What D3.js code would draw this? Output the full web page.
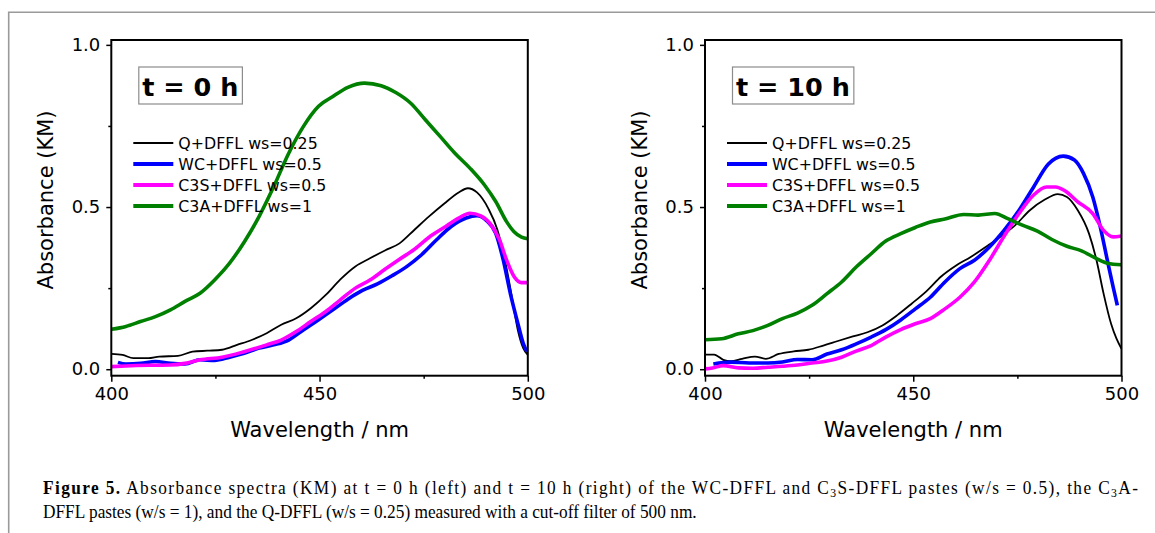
<!DOCTYPE html>
<html>
<head>
<meta charset="utf-8">
<script src="https://cdnjs.cloudflare.com/ajax/libs/d3/7.8.5/d3.min.js"></script>
<style>
body { margin: 0; background: #fff; }
svg { display: block; }
.axis text { font-family: "DejaVu Sans", sans-serif; font-size: 18px; fill: #000; }
.axis line { stroke: #000; stroke-width: 1.5px; }
</style>
</head>
<body>
<script>
// spectra: [wavelength nm, absorbance KM]
var q0 = [[400,0.047],[402.7,0.044],[405.3,0.034],[408.9,0.034],[411.5,0.039],[416,0.041],[419.5,0.054],[423.1,0.057],[426.6,0.06],[430.2,0.075],[433.7,0.09],[437.3,0.111],[440.8,0.137],[444.4,0.157],[447.9,0.188],[451.5,0.229],[455,0.277],[458.6,0.317],[462.1,0.342],[465.7,0.366],[469.2,0.388],[472.8,0.43],[476.3,0.471],[479.9,0.51],[483.4,0.545],[485.6,0.558],[487.8,0.545],[490.5,0.496],[492.7,0.43],[494.5,0.337],[496.3,0.214],[497.6,0.121],[498.9,0.065],[500,0.044]];
var wc0 = [[401.6,0.021],[403.5,0.016],[407.1,0.018],[410.6,0.024],[414.2,0.018],[417.7,0.016],[421.3,0.029],[424.8,0.027],[428.4,0.037],[431.9,0.049],[435.5,0.065],[439,0.075],[442.6,0.09],[446.1,0.121],[449.7,0.152],[453.2,0.183],[456.8,0.216],[460.3,0.243],[463.9,0.263],[467.4,0.288],[471,0.317],[474.5,0.353],[478.1,0.399],[481.6,0.44],[485.2,0.466],[487.8,0.473],[490.1,0.458],[492.3,0.419],[494.1,0.337],[495.8,0.234],[497.6,0.142],[498.9,0.08],[499.8,0.054]];
var c3s0 = [[400,0.008],[403.5,0.01],[408.9,0.012],[414.2,0.013],[417.7,0.018],[421.3,0.029],[426.6,0.037],[431.9,0.054],[437.3,0.075],[440.8,0.09],[444.4,0.116],[447.9,0.147],[451.5,0.178],[455,0.214],[458.6,0.25],[462.1,0.275],[465.7,0.308],[469.2,0.339],[472.8,0.37],[476.3,0.407],[479.9,0.437],[483.4,0.466],[486.1,0.481],[488.7,0.473],[491,0.448],[493.2,0.399],[494.9,0.337],[496.7,0.286],[498.5,0.267],[500,0.267]];
var c3a0 = [[400,0.123],[403.5,0.132],[407,0.147],[410.6,0.162],[414.2,0.183],[417.7,0.209],[421.3,0.234],[424.8,0.275],[428.4,0.327],[432,0.394],[435.5,0.471],[439,0.563],[442.6,0.666],[446.1,0.748],[449.7,0.81],[453.2,0.841],[456.8,0.869],[460.8,0.882],[464.8,0.874],[468.3,0.853],[471.9,0.82],[475.4,0.769],[479,0.717],[482.5,0.666],[486.1,0.62],[489.6,0.568],[492.3,0.517],[494.9,0.455],[496.7,0.424],[498.5,0.407],[500,0.402]];

var q10 = [[400,0.045],[402.2,0.045],[404.4,0.029],[406.2,0.025],[408.9,0.032],[412,0.039],[414.6,0.032],[417.7,0.047],[421.3,0.055],[424.8,0.06],[428.4,0.073],[431.9,0.087],[435.5,0.101],[439,0.114],[442.6,0.135],[446.1,0.166],[449.6,0.202],[453.2,0.241],[456.7,0.286],[460.3,0.32],[463.8,0.346],[467.4,0.377],[470.9,0.408],[474.5,0.444],[478,0.49],[481.6,0.523],[484.7,0.54],[486.9,0.531],[489.5,0.49],[492.2,0.418],[494,0.336],[495.7,0.233],[497.5,0.14],[498.8,0.094],[500,0.063]];
var wc10 = [[402,0.016],[406.2,0.022],[410.6,0.019],[415.1,0.019],[418.6,0.022],[422.2,0.03],[425.7,0.029],[429.3,0.047],[432.8,0.06],[436.3,0.078],[439.9,0.099],[443.4,0.122],[447,0.152],[450.5,0.186],[454.1,0.222],[457.6,0.269],[461.2,0.31],[464.7,0.336],[468.3,0.377],[471.8,0.428],[475.4,0.49],[478.9,0.562],[482.4,0.632],[486,0.657],[488.7,0.645],[490.9,0.603],[493.1,0.531],[494.9,0.439],[496.6,0.336],[498,0.253],[499,0.197]];
var c3s10 = [[400,0.001],[401.8,0.004],[404.4,0.011],[408,0.004],[411.5,0.003],[415.1,0.006],[418.6,0.009],[422.2,0.013],[425.7,0.019],[429.3,0.025],[432.8,0.037],[436.3,0.056],[439.9,0.073],[443.4,0.099],[447,0.122],[450.5,0.14],[454.1,0.156],[457.6,0.186],[461.2,0.222],[464.7,0.269],[468.3,0.336],[471.8,0.41],[475.4,0.48],[478.9,0.537],[482,0.562],[484.2,0.562],[486.4,0.55],[489.5,0.516],[493.1,0.48],[495.7,0.428],[498,0.408],[500,0.411]];
var c3a10 = [[400,0.091],[404,0.094],[408,0.109],[411.5,0.119],[415.1,0.135],[418.6,0.156],[422.2,0.173],[425.7,0.197],[429.3,0.233],[432.8,0.269],[436.3,0.315],[439.9,0.356],[443.4,0.395],[447,0.418],[450.5,0.437],[454.1,0.454],[457.6,0.463],[462.1,0.477],[465.6,0.475],[469.6,0.48],[472.7,0.464],[476.2,0.444],[479.8,0.426],[483.3,0.4],[486.9,0.379],[490.4,0.365],[494,0.341],[496.6,0.327],[500,0.322]];

var seriesNames = ["Q+DFFL ws=0.25", "WC+DFFL ws=0.5", "C3S+DFFL ws=0.5", "C3A+DFFL ws=1"];
var seriesColors = ["#000000", "#0000ff", "#ff00ff", "#008000"];
var seriesWidths = [1.8, 3.6, 3.6, 3.6];
var panelTitles = ["t = 0 h", "t = 10 h"];
var xTicks = [400, 450, 500], xMinor = [425, 475];
var yTicks = [0, 0.5, 1.0], yMinor = [0.25, 0.75];

var panels = [
  { left: 111.3, title: panelTitles[0], data: [q0, wc0, c3s0, c3a0] },
  { left: 705, title: panelTitles[1], data: [q10, wc10, c3s10, c3a10] }
];

var W = 1155, H = 533;
var plotTop = 40, width = 416.5, height = 335.7;

var svg = d3.select("body").append("svg")
    .attr("width", W)
    .attr("height", H);

// figure box (gray frame around the figure)
svg.append("path")
    .attr("d", "M8.7," + H + "V12.3H" + W)
    .attr("fill", "none")
    .attr("stroke", "#9a9a9a")
    .attr("stroke-width", 1.6);

var x = d3.scaleLinear().domain([400, 500]).range([0, width]);
var y = d3.scaleLinear().domain([-0.02, 1.015]).range([height, 0]);

var line = d3.line()
    .x(function(d) { return x(d[0]); })
    .y(function(d) { return y(d[1]); })
    .curve(d3.curveMonotoneX);

panels.forEach(function(p) {
  var g = svg.append("g").attr("transform", "translate(" + p.left + "," + plotTop + ")");

  // y axis, major + minor ticks
  g.append("g").attr("class", "axis")
      .call(d3.axisLeft(y).tickValues(yTicks).tickSize(5).tickPadding(6).tickFormat(d3.format(".1f")))
      .call(function(a) { a.select(".domain").remove(); });
  g.append("g").attr("class", "axis")
      .call(d3.axisLeft(y).tickValues(yMinor).tickSize(3).tickFormat(""))
      .call(function(a) { a.select(".domain").remove(); });

  // x axis
  g.append("g").attr("class", "axis")
      .attr("transform", "translate(0," + height + ")")
      .call(d3.axisBottom(x).tickValues(xTicks).tickSize(6).tickPadding(6))
      .call(function(a) { a.select(".domain").remove(); });
  g.append("g").attr("class", "axis")
      .attr("transform", "translate(0," + height + ")")
      .call(d3.axisBottom(x).tickValues(xMinor).tickSize(3).tickFormat(""))
      .call(function(a) { a.select(".domain").remove(); });

  // curves
  p.data.forEach(function(s, i) {
    g.append("path")
        .datum(s)
        .attr("fill", "none")
        .attr("stroke", seriesColors[i])
        .attr("stroke-width", seriesWidths[i])
        .attr("stroke-linejoin", "round")
        .attr("d", line);
  });

  // frame
  g.append("rect")
      .attr("width", width).attr("height", height)
      .attr("fill", "none").attr("stroke", "#000").attr("stroke-width", 2);

  // axis labels
  g.append("text")
      .attr("transform", "translate(-58.3," + (200 - plotTop) + ") rotate(-90)")
      .attr("text-anchor", "middle")
      .style("font-family", "DejaVu Sans, sans-serif")
      .style("font-size", "21px")
      .text("Absorbance (KM)");
  g.append("text")
      .attr("x", width / 2).attr("y", 437 - plotTop)
      .attr("text-anchor", "middle")
      .style("font-family", "DejaVu Sans, sans-serif")
      .style("font-size", "21px")
      .text("Wavelength / nm");

  // title box
  var t = g.append("text")
      .attr("x", 31).attr("y", 96 - plotTop)
      .style("font-family", "DejaVu Sans, sans-serif")
      .style("font-weight", "bold")
      .style("font-size", "25.5px")
      .text(p.title);
  var tw = t.node().getComputedTextLength();
  g.insert("rect", function() { return t.node(); })
      .attr("x", 27.5).attr("y", 67 - plotTop)
      .attr("width", tw + 7.5).attr("height", 37)
      .attr("fill", "#fff").attr("stroke", "#8c8c8c").attr("stroke-width", 1.2);

  // legend
  var lg = g.append("g");
  seriesNames.forEach(function(name, i) {
    var ly = 143 - plotTop + i * 21;
    lg.append("line")
        .attr("x1", 22).attr("x2", 62)
        .attr("y1", ly).attr("y2", ly)
        .attr("stroke", seriesColors[i])
        .attr("stroke-width", i === 0 ? 2.2 : 4);
    lg.append("text")
        .attr("x", 67).attr("y", ly).attr("dy", "0.36em")
        .style("font-family", "DejaVu Sans, sans-serif")
        .style("font-size", "15.8px")
        .text(name);
  });
});

// caption: narrow serif, first line justified to full width
var capFont = "Liberation Serif, serif";
var c1 = svg.append("text")
    .style("font-family", capFont).style("font-size", "18.5px");
c1.append("tspan").style("font-weight", "bold").text("Figure 5.");
c1.append("tspan").text(" Absorbance spectra (KM) at t = 0 h (left) and t = 10 h (right) of the WC-DFFL and C");
c1.append("tspan").attr("dy", 3).style("font-size", "12.5px").text("3");
c1.append("tspan").attr("dy", -3).text("S-DFFL pastes (w/s = 0.5), the C");
c1.append("tspan").attr("dy", 3).style("font-size", "12.5px").text("3");
c1.append("tspan").attr("dy", -3).text("A-");

var c2 = svg.append("text")
    .style("font-family", capFont).style("font-size", "18.5px")
    .text("DFFL pastes (w/s = 1), and the Q-DFFL (w/s = 0.25) measured with a cut-off filter of 500 nm.");

var k = 654 / c2.node().getBBox().width;
c2.attr("transform", "translate(43,518) scale(" + k + ",1)");
c1.attr("textLength", 1095 / k).attr("lengthAdjust", "spacing")
  .attr("transform", "translate(43,494) scale(" + k + ",1)");
</script>
</body>
</html>
